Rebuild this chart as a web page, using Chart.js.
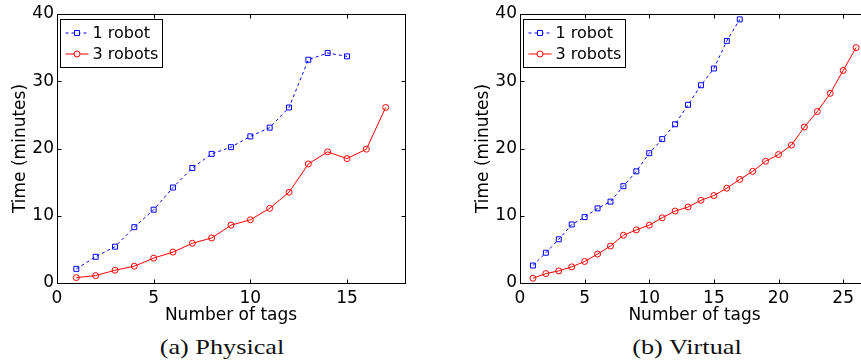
<!DOCTYPE html>
<html>
<head>
<meta charset="utf-8">
<script src="https://cdn.jsdelivr.net/npm/chart.js@4.4.1/dist/chart.umd.min.js"></script>
<style>
  html, body { margin: 0; padding: 0; background: #fff; overflow: hidden; width: 861px; height: 362px; }
  .wrap { position: absolute; top: 0; height: 330px; }
  #wrapA { left: 0; width: 430px; }
  #wrapB { left: 463px; width: 432px; }
  .caption {
    position: absolute; top: 335px; line-height: 24px;
    font-family: "Liberation Serif", serif; font-size: 21px; color: #111;
    white-space: nowrap; transform: translateX(-50%) scaleX(1.25);
  }
</style>
</head>
<body>
<div class="wrap" id="wrapA"><canvas id="physical" width="430" height="330"></canvas></div>
<div class="wrap" id="wrapB"><canvas id="virtual" width="432" height="330"></canvas></div>
<div class="caption" style="left:222px">(a) Physical</div>
<div class="caption" style="left:687px">(b) Virtual</div>
<script>
// (a) Physical
const physTags1 = [1, 2, 3, 4, 5, 6, 7, 8, 9, 10, 11, 12, 13, 14, 15]
const phys1Robot = [2.1, 3.9, 5.4, 8.3, 10.9, 14.2, 17.1, 19.2, 20.2, 21.8, 23.1, 26.1, 33.2, 34.2, 33.7]
const physTags3 = [1, 2, 3, 4, 5, 6, 7, 8, 9, 10, 11, 12, 13, 14, 15, 16, 17]
const phys3Robots = [0.8, 1.1, 1.9, 2.5, 3.7, 4.6, 5.9, 6.7, 8.6, 9.4, 11.1, 13.5, 17.7, 19.5, 18.5, 19.9, 26.1]

// (b) Virtual
const virtTags1 = [1, 2, 3, 4, 5, 6, 7, 8, 9, 10, 11, 12, 13, 14, 15, 16, 17]
const virt1Robot = [2.6, 4.5, 6.5, 8.7, 9.8, 11.1, 12.1, 14.4, 16.6, 19.3, 21.4, 23.6, 26.5, 29.4, 31.9, 36.0, 39.2]
const virtTags3 = [1, 2, 3, 4, 5, 6, 7, 8, 9, 10, 11, 12, 13, 14, 15, 16, 17, 18, 19, 20, 21, 22, 23, 24, 25, 26]
const virt3Robots = [0.7, 1.4, 1.8, 2.4, 3.2, 4.3, 5.5, 7.1, 7.9, 8.6, 9.7, 10.7, 11.3, 12.3, 13.0, 14.1, 15.4, 16.6, 18.1, 19.1, 20.5, 23.2, 25.5, 28.2, 31.6, 35.0]

const seriesLabels = ['1 robot', '3 robots']
const FONT = '"DejaVu Sans", sans-serif'

function toPoints(xs, ys) {
    return xs.map((x, i) => ({ x: x, y: ys[i] }))
}

// matlab-like box, inward ticks and boxed legend
const matlabAxes = {
    id: 'matlabAxes',
    afterDatasetsDraw(chart) {
        const { ctx, chartArea: a, scales } = chart
        const tick = 4
        ctx.save()
        ctx.strokeStyle = '#000'
        ctx.lineWidth = 1
        ctx.setLineDash([])
        const L = Math.round(a.left) + 0.5, R = Math.round(a.right) + 0.5
        const T = Math.round(a.top) + 0.5, B = Math.round(a.bottom) + 0.5
        ctx.strokeRect(L, T, R - L, B - T)

        ctx.beginPath()
        scales.x.ticks.forEach(t => {
            const px = Math.round(scales.x.getPixelForValue(t.value)) + 0.5
            ctx.moveTo(px, B); ctx.lineTo(px, B - tick)
            ctx.moveTo(px, T); ctx.lineTo(px, T + tick)
        })
        scales.y.ticks.forEach(t => {
            const py = Math.round(scales.y.getPixelForValue(t.value)) + 0.5
            ctx.moveTo(L, py); ctx.lineTo(L + tick, py)
            ctx.moveTo(R, py); ctx.lineTo(R - tick, py)
        })
        ctx.stroke()

        // legend
        ctx.font = '16px ' + FONT
        const boxL = L + 3, boxT = T + 5
        const lineX0 = boxL + 5, lineX1 = boxL + 28, textX = boxL + 32
        let maxW = 0
        chart.data.datasets.forEach(ds => { maxW = Math.max(maxW, ctx.measureText(ds.label).width) })
        const boxW = Math.round(textX + maxW + 4 - boxL), boxH = 48
        ctx.fillStyle = '#fff'
        ctx.fillRect(boxL, boxT, boxW, boxH)
        ctx.strokeStyle = '#000'
        ctx.strokeRect(boxL, boxT, boxW, boxH)

        chart.data.datasets.forEach((ds, i) => {
            const y = boxT + 13.5 + i * 21
            ctx.strokeStyle = ds.borderColor
            ctx.lineWidth = ds.borderWidth
            ctx.setLineDash(ds.borderDash || [])
            ctx.beginPath()
            ctx.moveTo(lineX0, y); ctx.lineTo(lineX1, y)
            ctx.stroke()
            ctx.setLineDash([])
            ctx.fillStyle = '#fff'
            ctx.strokeStyle = ds.pointBorderColor
            ctx.lineWidth = ds.pointBorderWidth
            Chart.helpers.drawPoint(ctx, {
                pointStyle: ds.pointStyle, radius: ds.pointRadius,
                borderWidth: ds.pointBorderWidth, rotation: 0
            }, (lineX0 + lineX1) / 2, y)
            ctx.fillStyle = '#000'
            ctx.textBaseline = 'middle'
            ctx.textAlign = 'left'
            ctx.fillText(ds.label, textX, y + 1)
        })
        ctx.restore()
    }
}

function makeChart(id, s1, s3, xMax, rightPad) {
    new Chart(document.getElementById(id), {
        type: 'line',
        data: {
            datasets: [
                {
                    label: seriesLabels[0],
                    data: s1,
                    borderColor: '#0000ff',
                    backgroundColor: 'transparent',
                    borderWidth: 1,
                    borderDash: [3, 3],
                    pointStyle: 'rect',
                    pointRadius: 3.5,
                    pointBorderWidth: 1,
                    pointBorderColor: '#0000ff',
                    pointBackgroundColor: 'transparent',
                    tension: 0
                },
                {
                    label: seriesLabels[1],
                    data: s3,
                    borderColor: '#ff0000',
                    backgroundColor: 'transparent',
                    borderWidth: 1,
                    pointStyle: 'circle',
                    pointRadius: 3,
                    pointBorderWidth: 1,
                    pointBorderColor: '#ff0000',
                    pointBackgroundColor: 'transparent',
                    tension: 0
                }
            ]
        },
        options: {
            responsive: false,
            animation: false,
            layout: { padding: { top: 14, right: rightPad, left: 0, bottom: 0 } },
            plugins: {
                legend: { display: false },
                tooltip: { enabled: false }
            },
            scales: {
                x: {
                    type: 'linear',
                    min: 0,
                    max: xMax,
                    grid: { display: false, drawTicks: false },
                    border: { display: false },
                    ticks: {
                        stepSize: 5, includeBounds: false, autoSkip: false, padding: 5,
                        color: '#000', font: { family: FONT, size: 17 }
                    },
                    title: {
                        display: true, text: 'Number of tags', color: '#000',
                        font: { family: FONT, size: 17 }, padding: { top: 0, bottom: 4 }
                    },
                    afterFit: scale => { scale.height = 47 }
                },
                y: {
                    min: 0,
                    max: 40,
                    grid: { display: false, drawTicks: false },
                    border: { display: false },
                    ticks: { stepSize: 10, padding: 3, color: '#000', font: { family: FONT, size: 17 } },
                    title: {
                        display: true, text: 'Time (minutes)', color: '#000',
                        font: { family: FONT, size: 17 }, padding: { top: 10, bottom: 0 }
                    },
                    afterFit: scale => { scale.width = 57 }
                }
            }
        },
        plugins: [matlabAxes]
    })
}

makeChart('physical', toPoints(physTags1, phys1Robot), toPoints(physTags3, phys3Robots), 18, 25)
makeChart('virtual', toPoints(virtTags1, virt1Robot), toPoints(virtTags3, virt3Robots), 27, 26)
</script>
</body>
</html>
